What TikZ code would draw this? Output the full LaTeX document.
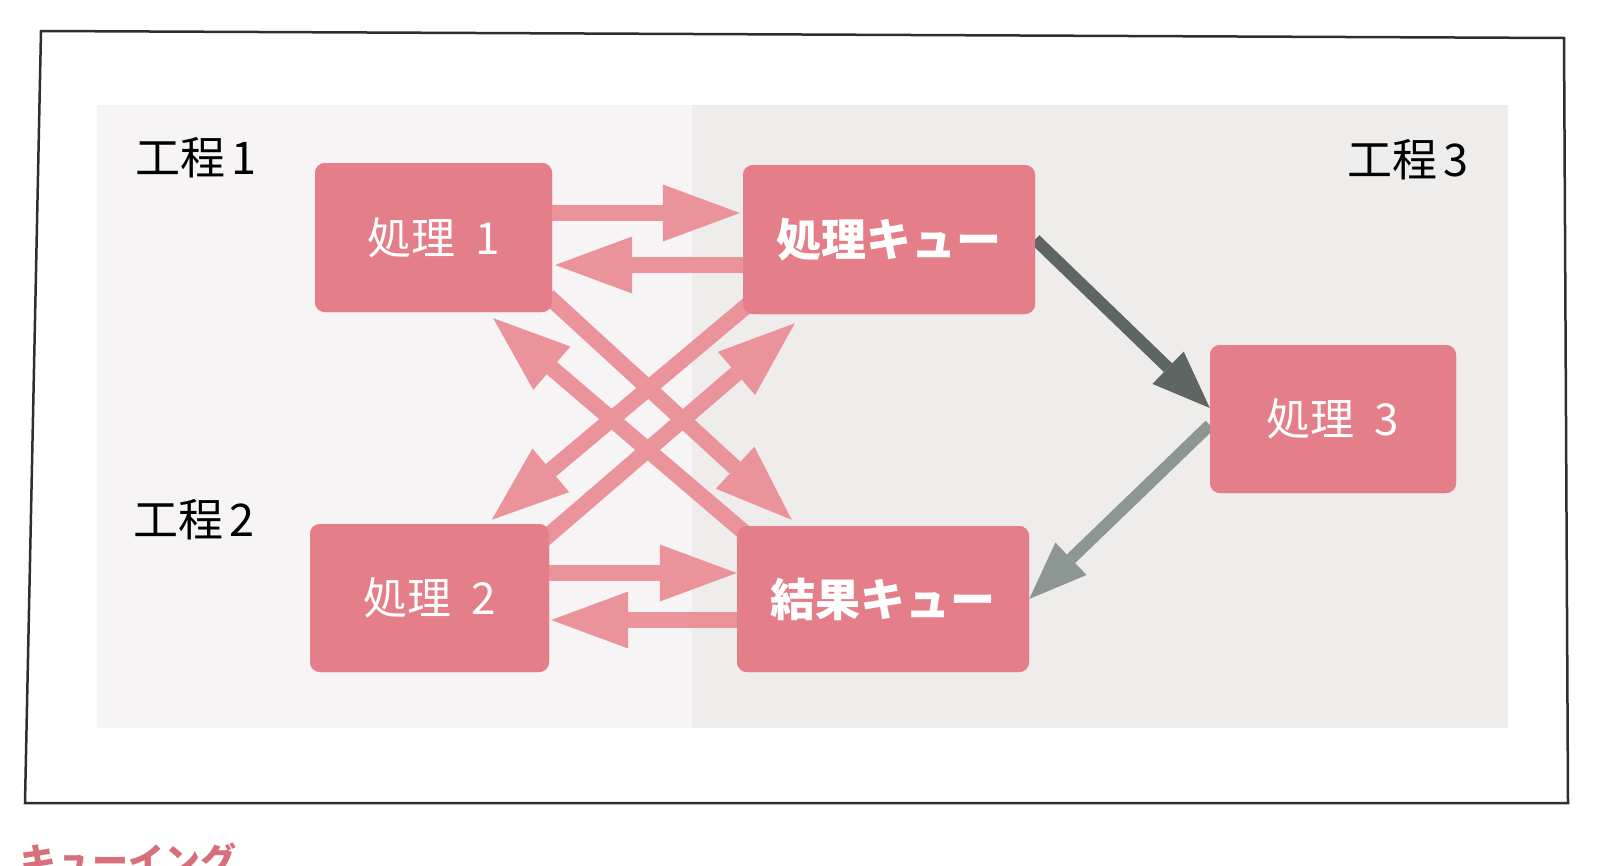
\documentclass[tikz,border=0pt]{standalone}
\usepackage{fontspec}
\newfontfamily\jp{Noto Sans CJK JP}
\usetikzlibrary{arrows.meta,calc}
\definecolor{boxpink}{HTML}{E47E89}
\definecolor{arrpink}{HTML}{EA939B}
\definecolor{gdark}{HTML}{5E6664}
\definecolor{glight}{HTML}{8C9693}
\definecolor{capred}{HTML}{D8707C}
\definecolor{bgA}{HTML}{F6F4F4}
\definecolor{bgB}{HTML}{EFEDEC}
\definecolor{framec}{HTML}{2E2E2E}
\begin{document}
\begin{tikzpicture}[x=1pt,y=-1pt,
  procbox/.style={fill=boxpink, rounded corners=10pt, inner sep=0pt, text=white,
    font=\jp\fontsize{44}{50}\selectfont},
  queuebox/.style={procbox, font=\jp\bfseries\fontsize{45}{50}\selectfont},
  lbl/.style={inner sep=0pt, text=black, font=\jp\fontsize{45}{50}\selectfont},
  fat/.style={draw=arrpink, line width=16pt,
    -{Triangle[length=77pt,width=57pt,line width=0pt]}},
  grayarrow/.style={line width=12pt,
    -{Triangle[length=58pt,width=45pt,line width=0pt]}}
]
\useasboundingbox (0,0) rectangle (1600,865);
\fill[white] (0,0) rectangle (1600,865);
% textured background regions
\fill[bgA] (97,105) rectangle (694,728);
\fill[bgB] (692,105) rectangle (1508,728);
% frame
\draw[framec, line width=2.5pt, line join=miter]
  (41,31) -- (1564,38) -- (1568,803) -- (25,803) -- cycle;

% boxes (positions only, drawn later on top)
\path
  node[procbox, minimum width=237pt, minimum height=149pt] (p1) at (433.5,237.5) {}
  node[procbox, minimum width=292pt, minimum height=149pt] (pq) at (889,239.5) {}
  node[procbox, minimum width=239pt, minimum height=148pt] (p2) at (429.5,598) {}
  node[procbox, minimum width=292pt, minimum height=146pt] (rq) at (883,599) {}
  node[procbox, minimum width=246pt, minimum height=148pt] (p3) at (1333,419) {};

% connector end points
\coordinate (a1s) at ($(p1.east)+(0,-24.5)$);
\coordinate (a1e) at ($(pq.west)+(-3,-26.5)$);
\coordinate (a2s) at ($(pq.west)+(0,25.5)$);
\coordinate (a2e) at ($(p1.east)+(3,27.5)$);
\coordinate (a3s) at ($(p2.east)+(0,-25)$);
\coordinate (a3e) at ($(rq.west)+(0,-26)$);
\coordinate (a4s) at ($(rq.west)+(0,21)$);
\coordinate (a4e) at ($(p2.east)+(2,22)$);
\coordinate (da) at ($(p1.south east)+(-4,-16)$);
\coordinate (dae) at ($(rq.north west)+(55,-6)$);
\coordinate (db) at ($(rq.north west)+(8,7)$);
\coordinate (dbe) at ($(p1.south east)+(-59,6)$);
\coordinate (dc) at ($(pq.south west)+(7,-11)$);
\coordinate (dce) at ($(p2.north west)+(182,-4)$);
\coordinate (dd) at ($(p2.north east)+(-7,17)$);
\coordinate (dde) at ($(pq.south west)+(52,9)$);
\coordinate (g1s) at (pq.east);
\coordinate (g1e) at ($(p3.west)+(0,-11)$);
\coordinate (g2s) at ($(p3.west)+(0,6)$);
\coordinate (g2e) at (rq.east);

% pink arrows
\draw[fat] (a1s) -- (a1e);
\draw[fat] (a2s) -- (a2e);
\draw[fat] (a3s) -- (a3e);
\draw[fat] (a4s) -- (a4e);
\draw[fat] (da) -- (dae);
\draw[fat] (db) -- (dbe);
\draw[fat] (dc) -- (dce);
\draw[fat] (dd) -- (dde);

% gray arrows
\draw[grayarrow, draw=gdark] (g1s) -- (g1e);
\draw[grayarrow, draw=glight] (g2s) -- (g2e);

% boxes on top
\node[procbox, minimum width=237pt, minimum height=149pt] at (p1) {処理\hspace{0.45em}1};
\node[queuebox, minimum width=292pt, minimum height=149pt] at (pq) {処理キュー};
\node[procbox, minimum width=239pt, minimum height=148pt] at (p2) {処理\hspace{0.45em}2};
\node[queuebox, minimum width=292pt, minimum height=146pt] at (rq) {結果キュー};
\node[procbox, minimum width=246pt, minimum height=148pt] at (p3) {処理\hspace{0.45em}3};

% stage labels
\node[lbl] (l1) at (196,158) {工程\hspace{0.12em}1};
\node[lbl] (l2) at (194,520) {工程\hspace{0.12em}2};
\node[lbl] (l3) at (1408,160) {工程\hspace{0.12em}3};

% caption (cut by the page edge)
\node[anchor=base west, inner sep=0pt, text=capred,
  font=\jp\bfseries\fontsize{36}{40}\selectfont] (cap) at (20,874) {キューイング};
\end{tikzpicture}
\end{document}
